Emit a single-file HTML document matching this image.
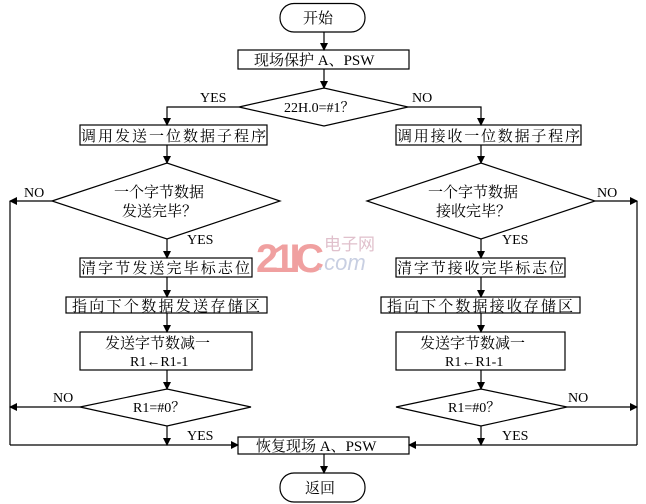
<!DOCTYPE html>
<html><head><meta charset="utf-8"><style>
html,body{margin:0;padding:0;background:#fff}
svg{display:block}
text{font-family:"Liberation Serif","Noto Serif CJK SC",serif;font-size:14px;fill:#000}
</style></head><body>
<svg width="646" height="504" viewBox="0 0 646 504" xmlns="http://www.w3.org/2000/svg">
<defs><marker id="a" markerWidth="8" markerHeight="8" refX="7" refY="4" orient="auto" markerUnits="userSpaceOnUse"><path d="M0,0 L8,4 L0,8 z" fill="#000"/></marker></defs>
<g stroke="#000" stroke-width="1.2" fill="none">
<rect x="280" y="3.5" width="85" height="28.5" rx="14"/>
<rect x="280" y="473" width="85" height="29" rx="14"/>
<rect x="238" y="50" width="171" height="19"/>
<polygon points="239,107 324,88 408,107 324,126"/>
<rect x="80" y="125" width="187" height="20"/>
<rect x="396" y="125" width="185" height="20"/>
<polygon points="52,201 167,163 280,201 167,239"/>
<polygon points="367,201 481,163 595,201 481,239"/>
<rect x="80" y="258" width="172" height="19"/>
<rect x="396" y="258" width="169" height="19"/>
<rect x="66" y="297" width="201" height="16"/>
<rect x="381" y="297" width="199" height="16"/>
<rect x="80" y="332" width="172" height="38"/>
<rect x="396" y="332" width="169" height="38"/>
<polygon points="80,407 167,389 251,407 167,426"/>
<polygon points="396,407 481,389 567,407 481,426"/>
<rect x="238" y="437" width="171" height="17"/>
<line x1="324" y1="32" x2="324" y2="50" marker-end="url(#a)"/>
<line x1="324" y1="69" x2="324" y2="88" marker-end="url(#a)"/>
<polyline points="239,107 167,107 167,125" marker-end="url(#a)"/>
<polyline points="408,107 481,107 481,125" marker-end="url(#a)"/>
<line x1="167" y1="145" x2="167" y2="163" marker-end="url(#a)"/>
<line x1="481" y1="145" x2="481" y2="163" marker-end="url(#a)"/>
<line x1="52" y1="201" x2="10" y2="201" marker-end="url(#a)"/>
<line x1="595" y1="201" x2="637" y2="201" marker-end="url(#a)"/>
<line x1="10" y1="201" x2="10" y2="445"/>
<line x1="637" y1="201" x2="637" y2="445"/>
<line x1="167" y1="239" x2="167" y2="258" marker-end="url(#a)"/>
<line x1="481" y1="239" x2="481" y2="258" marker-end="url(#a)"/>
<line x1="167" y1="277" x2="167" y2="297" marker-end="url(#a)"/>
<line x1="481" y1="277" x2="481" y2="297" marker-end="url(#a)"/>
<line x1="167" y1="313" x2="167" y2="332" marker-end="url(#a)"/>
<line x1="481" y1="313" x2="481" y2="332" marker-end="url(#a)"/>
<line x1="167" y1="370" x2="167" y2="389" marker-end="url(#a)"/>
<line x1="481" y1="370" x2="481" y2="389" marker-end="url(#a)"/>
<line x1="80" y1="407" x2="10" y2="407" marker-end="url(#a)"/>
<line x1="567" y1="407" x2="637" y2="407" marker-end="url(#a)"/>
<line x1="167" y1="426" x2="167" y2="445" marker-end="url(#a)"/>
<line x1="481" y1="426" x2="481" y2="445" marker-end="url(#a)"/>
<line x1="10" y1="445" x2="238" y2="445" marker-end="url(#a)"/>
<line x1="637" y1="445" x2="409" y2="445" marker-end="url(#a)"/>
<line x1="324" y1="454" x2="324" y2="473" marker-end="url(#a)"/>
</g>
<text x="256" y="272" style="font-size:40px;font-family:'Liberation Sans',sans-serif;font-weight:bold;fill:#f0a0a0" textLength="68">21IC</text>
<text x="324" y="250" style="font-size:17px;font-family:'Noto Sans CJK SC',sans-serif;fill:#e0c0cc">电子网</text>
<text x="318" y="270" style="font-size:22px;font-style:italic;fill:#c8cfe2;font-family:'Liberation Sans',sans-serif">.com</text>
<text x="303" y="23" style="font-size:15px">开始</text>
<text x="254" y="65" style="font-size:15px">现场保护 A、PSW</text>
<text x="284" y="112">22H.0=#1？</text>
<text x="200" y="102">YES</text>
<text x="412" y="102">NO</text>
<text x="81" y="141" style="font-size:15px" textLength="185">调用发送一位数据子程序</text>
<text x="397" y="141" style="font-size:15px" textLength="183">调用接收一位数据子程序</text>
<text x="114" y="197" style="font-size:15px">一个字节数据</text>
<text x="122" y="216" style="font-size:15px">发送完毕？</text>
<text x="428" y="197" style="font-size:15px">一个字节数据</text>
<text x="436" y="216" style="font-size:15px">接收完毕？</text>
<text x="24" y="197">NO</text>
<text x="597" y="197">NO</text>
<text x="187" y="244">YES</text>
<text x="502" y="244">YES</text>
<text x="81" y="273" style="font-size:15px" textLength="169">清字节发送完毕标志位</text>
<text x="397" y="273" style="font-size:15px" textLength="167">清字节接收完毕标志位</text>
<text x="72" y="311" style="font-size:15px" textLength="188">指向下个数据发送存储区</text>
<text x="387" y="311" style="font-size:15px" textLength="186">指向下个数据接收存储区</text>
<text x="105" y="348" style="font-size:15px">发送字节数减一</text>
<text x="130" y="366">R1←R1-1</text>
<text x="420" y="348" style="font-size:15px">发送字节数减一</text>
<text x="445" y="366">R1←R1-1</text>
<text x="133" y="412">R1=#0？</text>
<text x="448" y="412">R1=#0？</text>
<text x="53" y="402">NO</text>
<text x="568" y="402">NO</text>
<text x="187" y="440">YES</text>
<text x="502" y="440">YES</text>
<text x="256" y="451" style="font-size:15px">恢复现场 A、PSW</text>
<text x="305" y="493" style="font-size:15px">返回</text>
</svg>
</body></html>
